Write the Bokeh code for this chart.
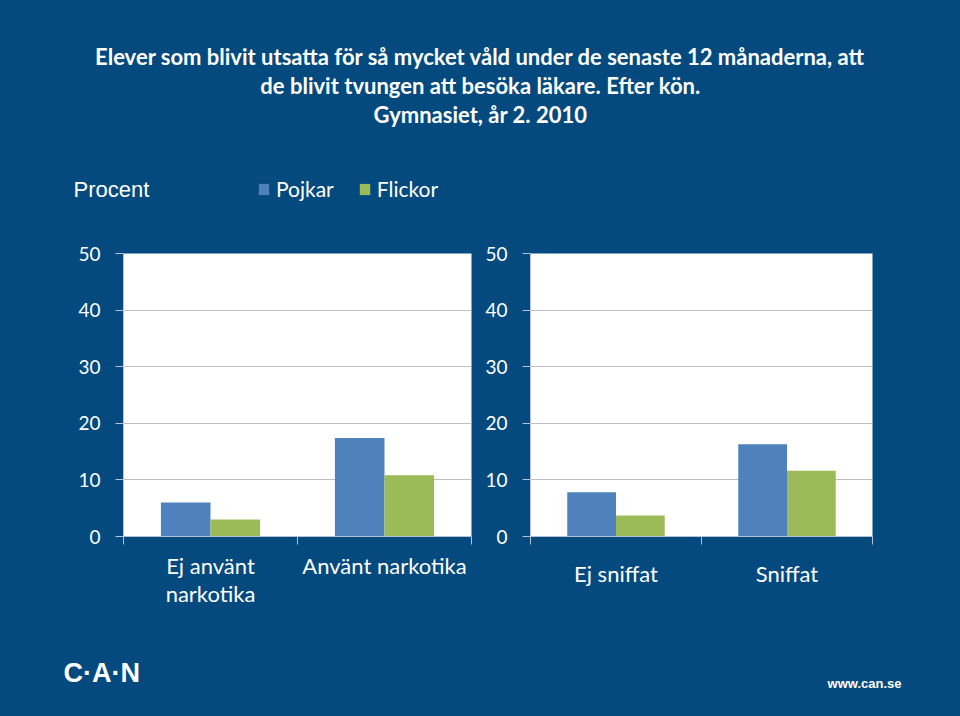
from bokeh.plotting import figure
from bokeh.models import Range1d, FixedTicker, Legend, LegendItem
from bokeh.layouts import column, row
from bokeh.embed import file_html
from bokeh.resources import INLINE
from bokeh.core.properties import value
import numpy as np

BG = "#044A7E"
BLUE = "#4F81BD"
GREEN = "#9BBB59"
AX = "#B4C3D6"
GRID = "#BFBFBF"
FONT = "Lato"

title_lines = [
    "Elever som blivit utsatta för så mycket våld under de senaste 12 månaderna, att",
    "de blivit tvungen att besöka läkare. Efter kön.",
    "Gymnasiet, år 2. 2010",
]
y_axis_title = "Procent"
series_names = ["Pojkar", "Flickor"]
series_colors = [BLUE, GREEN]
y_ticks = [0, 10, 20, 30, 40, 50]

left_categories = ["Ej använt\nnarkotika", "Använt narkotika"]
left_pojkar = [6.0, 17.4]
left_flickor = [3.0, 10.8]

right_categories = ["Ej sniffat", "Sniffat"]
right_pojkar = [7.8, 16.3]
right_flickor = [3.7, 11.6]

HEADER_H = 215
BW = 0.285


def make_chart(cats, boys, girls, width, height, bl, br, bt, bb, label_standoff):
    p = figure(width=width, height=height, x_range=Range1d(0, len(cats)),
               y_range=Range1d(0, 50), output_backend="svg", toolbar_location=None,
               min_border_left=bl, min_border_right=br, min_border_top=bt,
               min_border_bottom=bb)
    p.background_fill_color = "white"
    p.border_fill_color = BG
    p.outline_line_color = None
    idx = np.arange(len(cats)) + 0.5
    p.vbar(x=idx - BW / 2, top=boys, bottom=0, width=BW,
           fill_color=series_colors[0], line_color=None)
    p.vbar(x=idx + BW / 2, top=girls, bottom=0, width=BW,
           fill_color=series_colors[1], line_color=None)

    p.xgrid.visible = False
    p.ygrid.ticker = FixedTicker(ticks=y_ticks)
    p.ygrid.grid_line_color = GRID
    p.ygrid.grid_line_width = 1

    xa = p.xaxis[0]
    xa.ticker = FixedTicker(ticks=list(idx), minor_ticks=list(range(len(cats) + 1)))
    xa.major_label_overrides = {float(i): c for i, c in zip(idx, cats)}
    xa.major_tick_out = 0
    xa.major_tick_in = 0
    xa.minor_tick_out = 8
    xa.minor_tick_in = 0
    xa.minor_tick_line_color = AX
    xa.axis_line_color = AX
    xa.major_label_text_color = "white"
    xa.major_label_text_font = FONT
    xa.major_label_text_font_size = "22px"
    xa.major_label_text_line_height = 1.05
    xa.major_label_standoff = label_standoff

    ya = p.yaxis[0]
    ya.ticker = FixedTicker(ticks=y_ticks)
    ya.major_tick_out = 8
    ya.major_tick_in = 0
    ya.minor_tick_out = 0
    ya.minor_tick_in = 0
    ya.major_tick_line_color = AX
    ya.axis_line_color = AX
    ya.major_label_text_color = "white"
    ya.major_label_text_font = FONT
    ya.major_label_text_font_size = "19px"
    ya.major_label_standoff = 15
    return p


left = make_chart(left_categories, left_pojkar, left_flickor,
                  480, 640 - HEADER_H, 123, 9, 253 - HEADER_H, 104, 7)
right = make_chart(right_categories, right_pojkar, right_flickor,
                   480, 640 - HEADER_H, 50, 88, 248 - HEADER_H, 96, 15)

# header: title, y-axis caption and legend
header = figure(width=960, height=HEADER_H, x_range=Range1d(0, 960),
                y_range=Range1d(0, HEADER_H), x_axis_location=None, y_axis_location=None,
                output_backend="svg", toolbar_location=None, min_border=0)
header.background_fill_color = BG
header.border_fill_color = BG
header.outline_line_color = None
header.grid.visible = False
header.text(x=[480, 480, 480], y=[HEADER_H - 56, HEADER_H - 85, HEADER_H - 114],
            text=title_lines, text_align="center", text_baseline="middle",
            text_color="white", text_font=value(FONT), text_font_style="bold",
            text_font_size="22px")
header.text(x=[73], y=[HEADER_H - 189], text=[y_axis_title], text_align="left",
            text_baseline="middle", text_color="white",
            text_font=value("Liberation Sans"), text_font_size="22px")

# legend: hidden renderers carrying the series (only their legend swatches show)
lg_idx = np.arange(len(left_categories)) + 0.5
lg_renderers = []
for vals, c in zip([left_pojkar, left_flickor], series_colors):
    r = header.vbar(x=lg_idx, top=vals, width=BW, fill_color=c, line_color=None)
    r.visible = False
    lg_renderers.append(r)
legend = Legend(items=[LegendItem(label=n, renderers=[r])
                       for n, r in zip(series_names, lg_renderers)],
                location=(257, 14), orientation="horizontal")
legend.background_fill_alpha = 0
legend.border_line_color = None
legend.padding = 0
legend.margin = 0
legend.spacing = 24
legend.glyph_width = 13
legend.glyph_height = 14
legend.label_standoff = 6
legend.label_text_color = "white"
legend.label_text_font = FONT
legend.label_text_font_size = "21px"
legend.inactive_fill_alpha = 0
header.add_layout(legend)

footer = figure(width=960, height=76, x_range=Range1d(0, 960), y_range=Range1d(0, 76),
                x_axis_location=None, y_axis_location=None, output_backend="svg",
                toolbar_location=None, min_border=0)
footer.background_fill_color = BG
footer.border_fill_color = BG
footer.outline_line_color = None
footer.grid.visible = False
footer.text(x=[63], y=[76 - 32], text=["C·A·N"], text_align="left", text_baseline="middle",
            text_color="white", text_font=value("Liberation Sans"), text_font_style="bold",
            text_font_size="27px")
footer.text(x=[901], y=[76 - 43], text=["www.can.se"], text_align="right",
            text_baseline="middle", text_color="white", text_font=value("Liberation Sans"),
            text_font_style="bold", text_font_size="13px")

charts = row(left, right, styles={"background-color": BG})
layout = column(header, charts, footer, styles={"background-color": BG})
open("out.html", "w").write(file_html(layout, INLINE))
